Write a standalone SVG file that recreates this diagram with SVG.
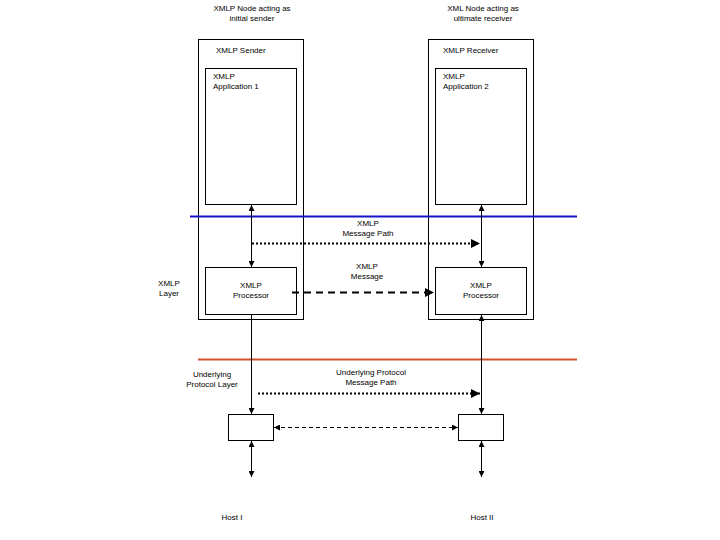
<svg xmlns="http://www.w3.org/2000/svg" width="720" height="540" viewBox="0 0 720 540">
<style>
.box{fill:#fff;stroke:#000;stroke-width:1}
.t{font-family:"Liberation Sans",Arial,sans-serif;font-size:8px;fill:#000}
.c{text-anchor:middle}
.ln{stroke:#000;stroke-width:1;fill:none}
</style>
<defs>
<marker id="a" viewBox="0 0 10 10" refX="10" refY="5" markerWidth="6" markerHeight="6" markerUnits="userSpaceOnUse" orient="auto-start-reverse"><path d="M0,0L10,5L0,10z" fill="#000"/></marker>
<marker id="b" viewBox="0 0 10 10" refX="10" refY="5" markerWidth="10" markerHeight="9" markerUnits="userSpaceOnUse" orient="auto"><path d="M0,0L10,5L0,10z" fill="#000"/></marker>
</defs>
<rect width="720" height="540" fill="#fff"/>
<g id="sender">
<rect class="box" x="198.5" y="39.5" width="105" height="280"/>
<text class="t" x="216" y="53">XMLP Sender</text>
</g>
<g id="app1">
<rect class="box" x="205.5" y="68.5" width="91" height="136"/>
<text class="t" x="213" y="79">XMLP</text>
<text class="t" x="213" y="89">Application 1</text>
</g>
<g id="proc1">
<rect class="box" x="205.5" y="267.5" width="91" height="47"/>
<text class="t c" x="251" y="288">XMLP</text>
<text class="t c" x="251" y="298">Processor</text>
</g>
<g id="receiver">
<rect class="box" x="428.5" y="39.5" width="105" height="280"/>
<text class="t" x="443" y="53">XMLP Receiver</text>
</g>
<g id="app2">
<rect class="box" x="435.5" y="68.5" width="91" height="136"/>
<text class="t" x="443" y="79">XMLP</text>
<text class="t" x="443" y="89">Application 2</text>
</g>
<g id="proc2">
<rect class="box" x="435.5" y="267.5" width="91" height="47"/>
<text class="t c" x="481" y="288">XMLP</text>
<text class="t c" x="481" y="298">Processor</text>
</g>
<g id="host1box"><rect class="box" x="228.5" y="414.5" width="45" height="26"/></g>
<g id="host2box"><rect class="box" x="458.5" y="414.5" width="45" height="26"/></g>
<g id="layers">
<line x1="190" y1="216.5" x2="577" y2="216.5" stroke="#1414C8" stroke-width="2"/>
<line x1="198" y1="359.5" x2="577" y2="359.5" stroke="#D2502A" stroke-width="2"/>
</g>
<g id="connectors">
<line class="ln" x1="251.5" y1="205" x2="251.5" y2="267" marker-start="url(#a)" marker-end="url(#a)"/>
<line class="ln" x1="481.5" y1="205" x2="481.5" y2="267" marker-start="url(#a)" marker-end="url(#a)"/>
<line class="ln" x1="251.5" y1="315" x2="251.5" y2="414" marker-end="url(#a)"/>
<line class="ln" x1="481.5" y1="315" x2="481.5" y2="414" marker-start="url(#a)" marker-end="url(#a)"/>
<line class="ln" x1="251.5" y1="441" x2="251.5" y2="477" marker-start="url(#a)" marker-end="url(#a)"/>
<line class="ln" x1="481.5" y1="441" x2="481.5" y2="477" marker-start="url(#a)" marker-end="url(#a)"/>
<line x1="252" y1="243.5" x2="480" y2="243.5" stroke="#000" stroke-width="2" stroke-dasharray="2,2" marker-end="url(#b)"/>
<line x1="292" y1="292.5" x2="434" y2="292.5" stroke="#000" stroke-width="2" stroke-dasharray="7,5" marker-end="url(#b)"/>
<line x1="258" y1="393.5" x2="480" y2="393.5" stroke="#000" stroke-width="2" stroke-dasharray="2,2" marker-end="url(#b)"/>
<line class="ln" x1="274" y1="427.5" x2="458" y2="427.5" stroke-dasharray="4,3" marker-start="url(#a)" marker-end="url(#a)"/>
</g>
<g id="labels">
<text class="t c" x="252" y="11">XMLP Node acting as</text>
<text class="t c" x="252" y="21">initial sender</text>
<text class="t c" x="483" y="11">XML Node acting as</text>
<text class="t c" x="483" y="21">ultimate receiver</text>
<text class="t c" x="368" y="226">XMLP</text>
<text class="t c" x="368" y="236">Message Path</text>
<text class="t c" x="367" y="269">XMLP</text>
<text class="t c" x="367" y="279">Message</text>
<text class="t c" x="169" y="286">XMLP</text>
<text class="t c" x="169" y="296">Layer</text>
<text class="t c" x="212" y="377">Underlying</text>
<text class="t c" x="212" y="387">Protocol Layer</text>
<text class="t c" x="371" y="375">Underlying Protocol</text>
<text class="t c" x="371" y="385">Message Path</text>
<text class="t c" x="232" y="520">Host I</text>
<text class="t c" x="482" y="520">Host II</text>
</g>
</svg>
